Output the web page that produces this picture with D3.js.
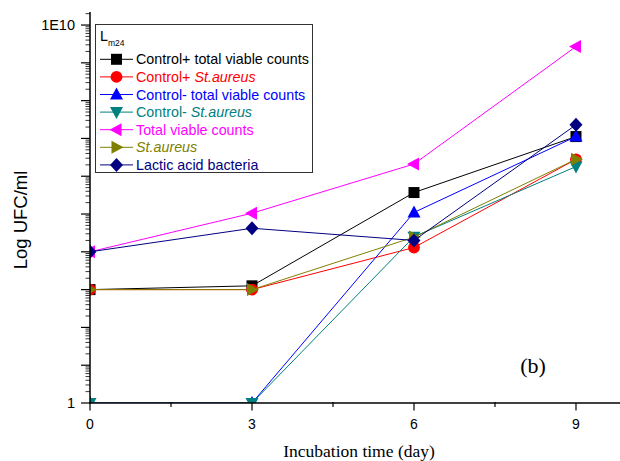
<!DOCTYPE html>
<html><head><meta charset="utf-8">
<script src="https://cdn.jsdelivr.net/npm/d3@7"></script>
<style>body{margin:0;background:#fff}svg{display:block}</style>
</head><body>
<svg id="c" width="620" height="461"></svg>
<script>
const days = [0, 3, 6, 9];
const controlPlusTotal = [1e3, 1.26e3, 3.7e5, 1.12e7];
const controlPlusStaph = [1e3, 1e3, 1.3e4, 2.8e6];
const controlMinusTotal = [1, 1, 1.1e5, 1.12e7];
const controlMinusStaph = [1, 1, 2.5e4, 1.8e6];
const totalViable = [1e4, 1.05e5, 2.1e6, 2.7e9];
const staph = [1e3, 1e3, 2.45e4, 2.8e6];
const lactic = [1e4, 4.2e4, 2.0e4, 2.3e7];
const xTickLabels = ["0", "3", "6", "9"];
const yTickLabels = ["1", "1E10"];

const series = [
  {name: [["Control+ total viable counts", false]], vals: controlPlusTotal, color: "#000000", sym: "square"},
  {name: [["Control+ ", false], ["St.aureus", true]], vals: controlPlusStaph, color: "#FF0000", sym: "circle"},
  {name: [["Control- total viable counts", false]], vals: controlMinusTotal, color: "#0000FF", sym: "up"},
  {name: [["Control- ", false], ["St.aureus", true]], vals: controlMinusStaph, color: "#008080", sym: "down"},
  {name: [["Total viable counts", false]], vals: totalViable, color: "#FF00FF", sym: "left"},
  {name: [["St.aureus", true]], vals: staph, color: "#808000", sym: "right"},
  {name: [["Lactic acid bacteria", false]], vals: lactic, color: "#000080", sym: "diamond"}
];

const svg = d3.select("#c");
const L = 90, R = 620, T = 12, B = 403;
const x = d3.scaleLinear().domain([0, 9.815]).range([L, R]);
const y = d3.scaleLog().domain([1, Math.pow(10, 10.345)]).range([B, T]);

function symPath(sym) {
  switch (sym) {
    case "square": return "M-5.5,-5.5H5.5V5.5H-5.5Z";
    case "circle": return d3.symbol(d3.symbolCircle, 110)();
    case "up": return "M0,-7L6.5,5L-6.5,5Z";
    case "down": return "M0,7L6.5,-5L-6.5,-5Z";
    case "left": return "M-7,0L5,-6.5L5,6.5Z";
    case "right": return "M7,0L-5,-6.5L-5,6.5Z";
    case "diamond": return "M0,-7L6.5,0L0,7L-6.5,0Z";
  }
}

svg.append("defs").append("clipPath").attr("id", "clip")
  .append("rect").attr("x", L).attr("y", 0).attr("width", R - L).attr("height", B);

const plot = svg.append("g").attr("clip-path", "url(#clip)");
const line = d3.line().x((d, i) => x(days[i])).y(d => y(d));
series.forEach(s => {
  plot.append("path").attr("d", line(s.vals)).attr("fill", "none")
    .attr("stroke", s.color).attr("stroke-width", 1);
  s.vals.forEach((v, i) => {
    plot.append("path").attr("d", symPath(s.sym))
      .attr("transform", `translate(${x(days[i])},${y(v)})`)
      .attr("fill", s.color);
  });
});

// Y axis ticks
const yMajor = d3.range(0, 11).map(e => Math.pow(10, e));
const yMinor = [];
for (let e = 0; e <= 10; e++) for (let m = 2; m <= 9; m++) {
  const v = m * Math.pow(10, e);
  if (v <= y.domain()[1]) yMinor.push(v);
}
const ax = svg.append("g").attr("stroke", "#000");
ax.append("line").attr("x1", L).attr("x2", L).attr("y1", T).attr("y2", B + 0.75).attr("stroke-width", 1.5);
ax.append("line").attr("x1", L - 0.75).attr("x2", R).attr("y1", B).attr("y2", B).attr("stroke-width", 1.5);
yMajor.forEach(v => ax.append("line").attr("x1", L - 9).attr("x2", L).attr("y1", y(v)).attr("y2", y(v)).attr("stroke-width", 1.2));
yMinor.forEach(v => ax.append("line").attr("x1", L - 4.5).attr("x2", L).attr("y1", y(v)).attr("y2", y(v)).attr("stroke-width", 0.8));
// X axis ticks
days.forEach(d => ax.append("line").attr("x1", x(d)).attr("x2", x(d)).attr("y1", B).attr("y2", B + 7.5).attr("stroke-width", 1.2));
[1.5, 4.5, 7.5].forEach(d => ax.append("line").attr("x1", x(d)).attr("x2", x(d)).attr("y1", B - 1).attr("y2", B + 4).attr("stroke-width", 1.2));

const sans = "Liberation Sans, Arial, sans-serif";
const serif = "Liberation Serif, Times New Roman, serif";
svg.append("text").attr("x", 75).attr("y", y(1) + 5.2).attr("text-anchor", "end")
  .attr("font-family", sans).attr("font-size", 14.5).text(yTickLabels[0]);
svg.append("text").attr("x", 75).attr("y", y(1e10) + 5.2).attr("text-anchor", "end")
  .attr("font-family", sans).attr("font-size", 14.5).text(yTickLabels[1]);
days.forEach((d, i) => svg.append("text").attr("x", x(d)).attr("y", 428.5).attr("text-anchor", "middle")
  .attr("font-family", sans).attr("font-size", 14).text(xTickLabels[i]));

svg.append("text").attr("transform", "translate(27,220) rotate(-90)").attr("text-anchor", "middle")
  .attr("font-family", sans).attr("font-size", 18.5).text("Log UFC/ml");
svg.append("text").attr("x", 359).attr("y", 456.5).attr("text-anchor", "middle")
  .attr("font-family", serif).attr("font-size", 17.5).text("Incubation time (day)");
svg.append("text").attr("x", 533).attr("y", 373).attr("text-anchor", "middle")
  .attr("font-family", serif).attr("font-size", 22).text("(b)");

// Legend
const lg = svg.append("g");
lg.append("rect").attr("x", 95.5).attr("y", 24.5).attr("width", 217).attr("height", 148)
  .attr("fill", "#fff").attr("stroke", "#333").attr("stroke-width", 1);
const lt = lg.append("text").attr("x", 100).attr("y", 41).attr("font-family", sans).attr("font-size", 14.3);
lt.append("tspan").text("L");
lt.append("tspan").attr("font-size", 8.5).attr("dy", 5).text("m24");
series.forEach((s, i) => {
  const yy = 59.3 + i * 17.6;
  lg.append("line").attr("x1", 100).attr("x2", 133).attr("y1", yy).attr("y2", yy)
    .attr("stroke", s.color).attr("stroke-width", 1);
  lg.append("path").attr("d", symPath(s.sym)).attr("transform", `translate(116.5,${yy})`).attr("fill", s.color);
  const t = lg.append("text").attr("x", 136).attr("y", yy + 5).attr("font-family", sans)
    .attr("font-size", 14.3).attr("fill", s.color);
  s.name.forEach(([txt, it]) => t.append("tspan").attr("font-style", it ? "italic" : "normal").text(txt));
});
</script>
</body></html>
